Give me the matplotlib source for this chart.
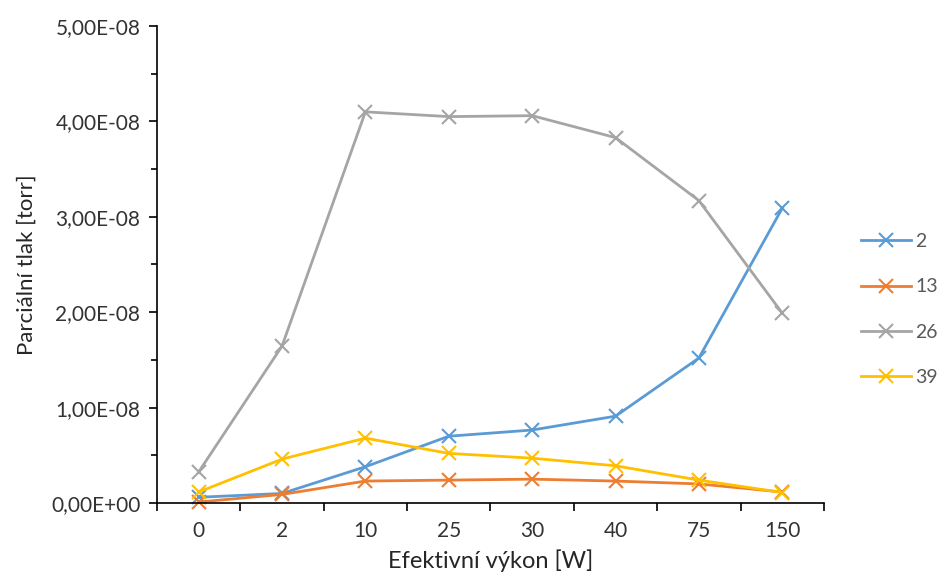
import matplotlib.pyplot as plt
import numpy as np
from matplotlib.ticker import FuncFormatter, MultipleLocator

# data
vykon = ['0', '2', '10', '25', '30', '40', '75', '150']
m2 = [0.06e-8, 0.10e-8, 0.38e-8, 0.70e-8, 0.765e-8, 0.91e-8, 1.52e-8, 3.09e-8]
m13 = [0.01e-8, 0.09e-8, 0.23e-8, 0.24e-8, 0.25e-8, 0.23e-8, 0.20e-8, 0.115e-8]
m26 = [0.325e-8, 1.645e-8, 4.10e-8, 4.05e-8, 4.06e-8, 3.83e-8, 3.17e-8, 1.99e-8]
m39 = [0.115e-8, 0.46e-8, 0.68e-8, 0.52e-8, 0.47e-8, 0.39e-8, 0.24e-8, 0.11e-8]
nazvy = ['2', '13', '26', '39']

plt.rcParams['font.family'] = ['Lato', 'DejaVu Sans']

fig = plt.figure(figsize=(9.45, 5.84), dpi=100)
ax = fig.add_axes([0.1661, 0.1387, 0.7058, 0.8168])

barvy = ['#5B9BD5', '#ED7D31', '#A5A5A5', '#FFC000']
for serie, nazev, c in zip([m2, m13, m26, m39], nazvy, barvy):
    ax.plot(vykon, serie, color=c, marker='x', markersize=10, markeredgewidth=1.5,
            linewidth=2, label=nazev, clip_on=False)

# osy
ax.set_xlim(-0.5, 7.5)
ax.set_ylim(0, 5e-8)
ax.yaxis.set_major_locator(MultipleLocator(1e-8))
ax.yaxis.set_minor_locator(MultipleLocator(0.5e-8))
ax.yaxis.set_major_formatter(FuncFormatter(lambda v, p: f'{v:.2E}'.replace('.', ',')))
ax.xaxis.set_minor_locator(plt.FixedLocator(np.arange(-0.5, 8, 1)))
ax.tick_params(axis='x', which='major', length=0, pad=13, labelsize=15, labelcolor='#333333')
ax.tick_params(axis='x', which='minor', length=6, width=1.2, direction='out')
ax.tick_params(axis='y', which='major', length=6, width=1.2, labelsize=15, labelcolor='#333333', pad=6)
ax.tick_params(axis='y', which='minor', length=4, width=1.2)

for s in ['top', 'right']:
    ax.spines[s].set_visible(False)
for s in ['left', 'bottom']:
    ax.spines[s].set_linewidth(1.2)
    ax.spines[s].set_color('black')

ax.set_xlabel('Efektivní výkon [W]', fontsize=17, color='#262626', labelpad=6)
ax.set_ylabel('Parciální tlak [torr]', fontsize=16, color='#262626', labelpad=10)

fig.legend(loc='center left', bbox_to_anchor=(0.911, 0.47), frameon=False,
           fontsize=14, labelcolor='#595959', handlelength=2.6, handletextpad=0.2,
           labelspacing=1.45, borderaxespad=0, borderpad=0)

plt.savefig('out.png', dpi=100)
